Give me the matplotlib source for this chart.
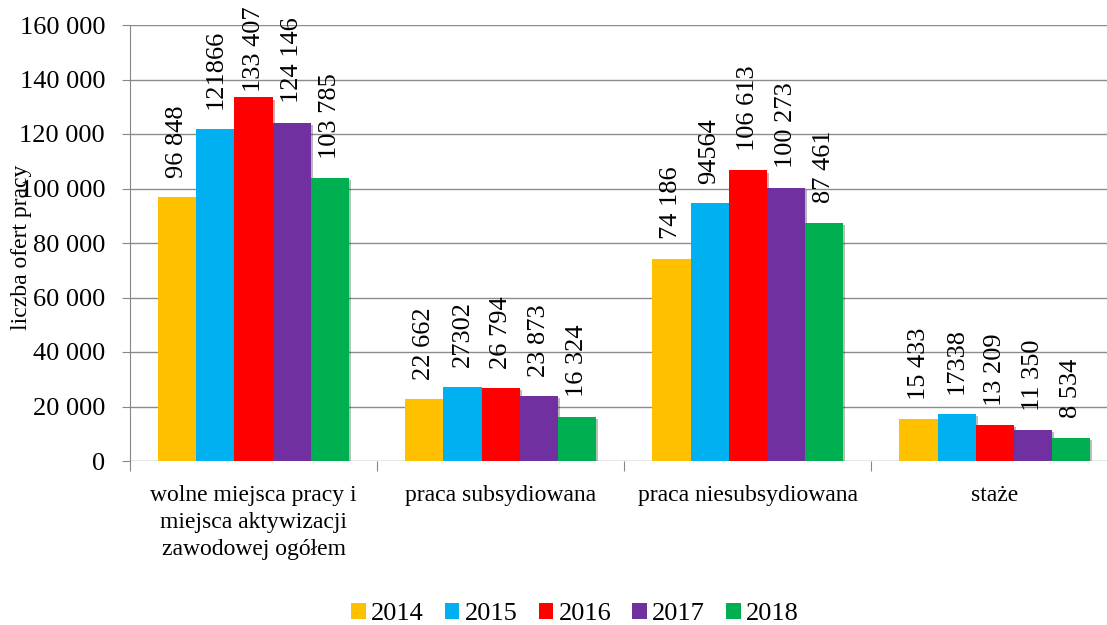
import numpy as np
import matplotlib
matplotlib.use("Agg")
import matplotlib.pyplot as plt
import matplotlib.patheffects as pe
from matplotlib.patches import Patch
from matplotlib.ticker import FuncFormatter

plt.rcParams['font.family'] = ['Liberation Serif', 'DejaVu Serif']

categories = ["wolne miejsca pracy i\nmiejsca aktywizacji\nzawodowej ogółem",
              "praca subsydiowana", "praca niesubsydiowana", "staże"]
years = ["2014", "2015", "2016", "2017", "2018"]
colors = ["#FFC000", "#00B0F0", "#FF0000", "#7030A0", "#00B050"]

v2014 = [96848, 22662, 74186, 15433]
v2015 = [121866, 27302, 94564, 17338]
v2016 = [133407, 26794, 106613, 13209]
v2017 = [124146, 23873, 100273, 11350]
v2018 = [103785, 16324, 87461, 8534]
series = [v2014, v2015, v2016, v2017, v2018]

# 2015 labels are shown without the thousands space in the source
label_space = [True, False, True, True, True]


def fmt_space(v):
    return f"{int(v):,}".replace(",", " ")


fig = plt.figure(figsize=(11.07, 6.25), dpi=100)
ax = fig.add_axes([130/1107, 1 - 461/625, 1 - 130/1107, (461 - 25)/625])

x = np.arange(len(categories))
w = 0.154
shadow = [pe.SimplePatchShadow(offset=(2, -1.5), alpha=0.3), pe.Normal()]

for i, (vals, yr, c) in enumerate(zip(series, years, colors)):
    pos = x + (i - 2) * w
    bars = ax.bar(pos, vals, width=w, color=c, zorder=3)
    for b in bars:
        b.set_path_effects(shadow)
    for p, v in zip(pos, vals):
        txt = fmt_space(v) if label_space[i] else str(v)
        off = 4 if v > 130000 else 14
        ax.annotate(txt, (p, v), xytext=(0, off), textcoords="offset points",
                    rotation=90, ha="center", va="bottom", fontsize=19,
                    annotation_clip=False)

ax.set_ylim(0, 160000)
ax.set_xlim(-0.5, 3.455)
ax.set_yticks(np.arange(0, 160001, 20000))
ax.yaxis.set_major_formatter(FuncFormatter(lambda v, _: fmt_space(v)))
ax.tick_params(axis="y", labelsize=19, length=6, color="#868686", pad=12)
ax.grid(axis="y", color="#8c8c8c", linewidth=1, zorder=0)
ax.set_axisbelow(True)

ax.set_xticks([-0.5, 0.5, 1.5, 2.5])
ax.set_xticklabels([])
ax.set_xticks(x, minor=True)
ax.set_xticklabels(categories, minor=True, fontsize=17, linespacing=1.4)
ax.tick_params(axis="x", which="major", length=7, color="#868686")
ax.tick_params(axis="x", which="minor", length=0, pad=17)

for s in ["top", "right", "bottom"]:
    ax.spines[s].set_visible(False)
ax.spines["left"].set_color("#868686")

fig.text(22/1107, 1 - 247/625, "liczba ofert pracy", rotation=90,
         ha="center", va="center", fontsize=17)

handles = [Patch(facecolor=c, label=yr) for yr, c in zip(years, colors)]
fig.legend(handles=handles, loc="center", bbox_to_anchor=(575/1107, 1 - 614/625),
           ncol=5, frameon=False, fontsize=19, handlelength=0.55,
           handleheight=0.55, handletextpad=0.2, columnspacing=0.8)

fig.savefig("out.png", dpi=100)
